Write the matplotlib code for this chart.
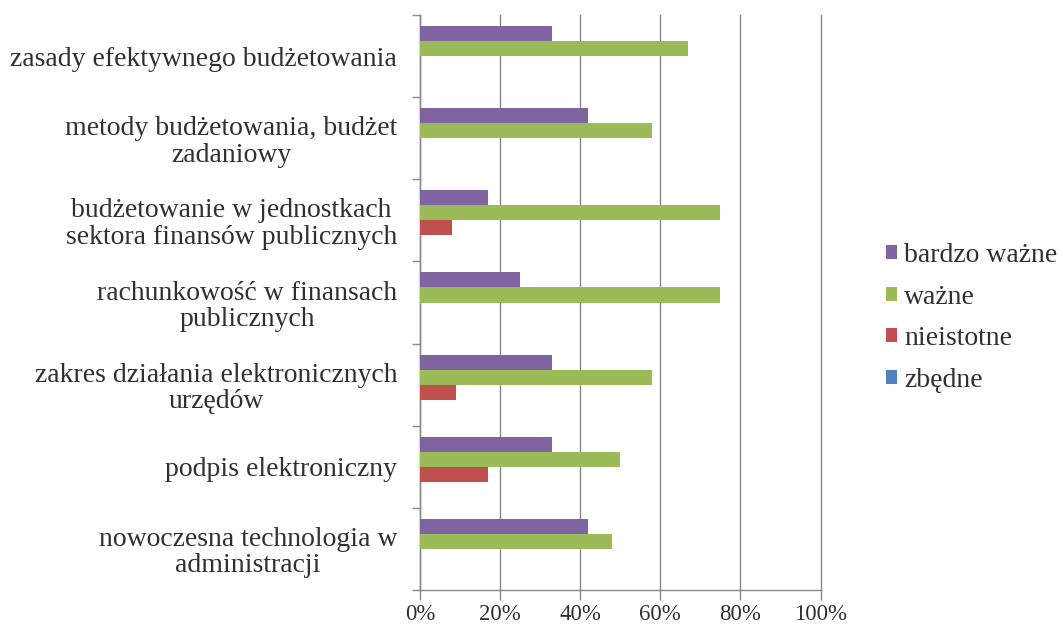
import matplotlib
matplotlib.use("Agg")
import matplotlib.pyplot as plt
from matplotlib.patches import Patch
import numpy as np

plt.rcParams['font.family'] = ['Liberation Serif', 'DejaVu Serif']

kategorie = [
    "zasady efektywnego budżetowania",
    "metody budżetowania, budżet\nzadaniowy",
    "budżetowanie w jednostkach\nsektora finansów publicznych",
    "rachunkowość w finansach\npublicznych",
    "zakres działania elektronicznych\nurzędów",
    "podpis elektroniczny",
    "nowoczesna technologia w\nadministracji",
]
serie = ["bardzo ważne", "ważne", "nieistotne", "zbędne"]
bardzo_wazne = [33, 42, 17, 25, 33, 33, 42]
wazne = [67, 58, 75, 75, 58, 50, 48]
nieistotne = [0, 0, 8, 0, 9, 17, 0]
zbedne = [0, 0, 0, 0, 0, 0, 0]
kolory = ["#8064A2", "#9BBB59", "#C0504D", "#4F81BD"]

wartosci = [bardzo_wazne, wazne, nieistotne, zbedne]

fig = plt.figure(figsize=(10.63, 6.26), dpi=100)
ax = fig.add_axes([420 / 1063, 1 - 590 / 626, 400.5 / 1063, 575 / 626])

y = np.arange(len(kategorie))
h = 15 / 82.1
for i, (vals, kol) in enumerate(zip(wartosci, kolory)):
    ax.barh(y + (i - 1.5) * h, vals, height=h, color=kol, zorder=3)

ax.set_xlim(0, 100)
ax.set_ylim(len(kategorie) - 0.5, -0.5)
ax.set_xticks(range(0, 101, 20))
ax.set_xticklabels([f"{v}%" for v in range(0, 101, 20)], fontsize=16.5, color="#303030")
ax.set_yticks(y)
ax.set_yticklabels(kategorie, fontsize=20, color="#303030",
                   multialignment="center", linespacing=1.08)
ax.set_yticks(np.arange(len(kategorie) + 1) - 0.5, minor=True)
ax.tick_params(axis="y", which="major", length=0, pad=16.5)
ax.tick_params(axis="y", which="minor", length=6, color="#888888", width=1)
ax.tick_params(axis="x", length=7, color="#888888", width=1, pad=3)

ax.grid(axis="x", color="#888888", linewidth=1, zorder=0)
for gl in ax.get_xgridlines():
    gl.set_clip_on(False)
for s in ["top", "right"]:
    ax.spines[s].set_visible(False)
for s in ["left", "bottom"]:
    ax.spines[s].set_color("#888888")
    ax.spines[s].set_linewidth(1)

uchwyty = [Patch(facecolor=k, edgecolor="none") for k in kolory]
fig.legend(uchwyty, serie, loc="center left", bbox_to_anchor=(886 / 1063, 1 - 318 / 626),
           frameon=False, fontsize=20, handlelength=0.4, handleheight=0.4,
           handletextpad=0.25, labelspacing=0.6, borderpad=0, borderaxespad=0,
           labelcolor="#303030")

fig.savefig("out.png", dpi=100)
